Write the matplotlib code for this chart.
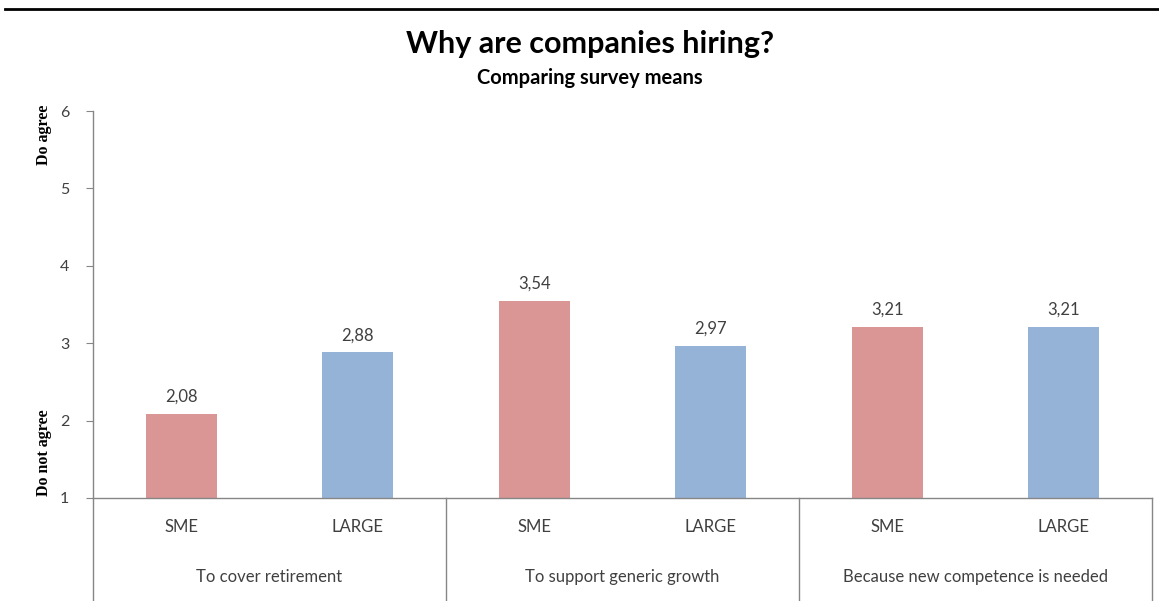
import matplotlib
matplotlib.use("Agg")
import matplotlib.pyplot as plt
from matplotlib.lines import Line2D
import matplotlib.transforms as mtransforms

plt.rcParams['font.family'] = ['Lato', 'DejaVu Sans']

groups = ["To cover retirement", "To support generic growth", "Because new competence is needed"]
segments = ["SME", "LARGE"]
sme_means = [2.08, 3.54, 3.21]
large_means = [2.88, 2.97, 3.21]
y_ticks = [1, 2, 3, 4, 5, 6]

SME_COLOR = "#D99694"
LARGE_COLOR = "#95B3D7"
AXIS_GRAY = "#868686"
TEXT_GRAY = "#404040"

fig = plt.figure(figsize=(11.59, 6.01), dpi=100)
ax = fig.add_axes([0.0802, 0.1714, 0.9138, 0.6439])

# interleave SME / LARGE per group
values = []
colors = []
labels = []
for s, l in zip(sme_means, large_means):
    values += [s, l]
    colors += [SME_COLOR, LARGE_COLOR]
    labels += segments
xpos = list(range(len(values)))

ax.bar(xpos, values, width=0.4, color=colors, zorder=2)
for x, v in zip(xpos, values):
    ax.text(x, v + 0.12, f"{v:.2f}".replace(".", ","), ha="center", va="bottom",
            fontsize=12, color=TEXT_GRAY)

ax.set_xlim(-0.5, len(values) - 0.5)
ax.set_ylim(1, 6)
ax.set_yticks(y_ticks)
ax.tick_params(axis="y", direction="out", length=5, color=AXIS_GRAY,
               labelsize=11.5, labelcolor=TEXT_GRAY, pad=12)
ax.set_xticks([])
for side in ["top", "right"]:
    ax.spines[side].set_visible(False)
for side in ["left", "bottom"]:
    ax.spines[side].set_color(AXIS_GRAY)
    ax.spines[side].set_linewidth(1.0)

# two-level category axis below the plot
trans = mtransforms.blended_transform_factory(ax.transData, ax.transAxes)
bottom_frac = -0.1714 / 0.6439
for x, lab in zip(xpos, labels):
    ax.text(x, -0.075, lab, transform=trans, ha="center", va="center",
            fontsize=12, color=TEXT_GRAY)
for i, g in enumerate(groups):
    ax.text(2 * i + 0.5, -0.205, g, transform=trans, ha="center", va="center",
            fontsize=12, color=TEXT_GRAY)
for sep in [-0.5, 1.5, 3.5, 5.5]:
    ax.add_line(Line2D([sep, sep], [0, bottom_frac], transform=trans,
                       color=AXIS_GRAY, lw=1.0, clip_on=False))

# agreement scale annotations
fig.text(0.038, 0.775, "Do agree", rotation=90, ha="center", va="center",
         family="Liberation Serif", weight="bold", fontsize=11.5)
fig.text(0.038, 0.247, "Do not agree", rotation=90, ha="center", va="center",
         family="Liberation Serif", weight="bold", fontsize=11.5)

fig.text(0.509, 0.926, "Why are companies hiring?", ha="center", va="center",
         fontsize=22, weight="bold")
fig.text(0.509, 0.87, "Comparing survey means", ha="center", va="center",
         fontsize=14.5, weight="bold")

fig.add_artist(Line2D([0.004, 1.0], [0.985, 0.985], color="black", lw=2))

fig.savefig("out.png", dpi=100, facecolor="white")
